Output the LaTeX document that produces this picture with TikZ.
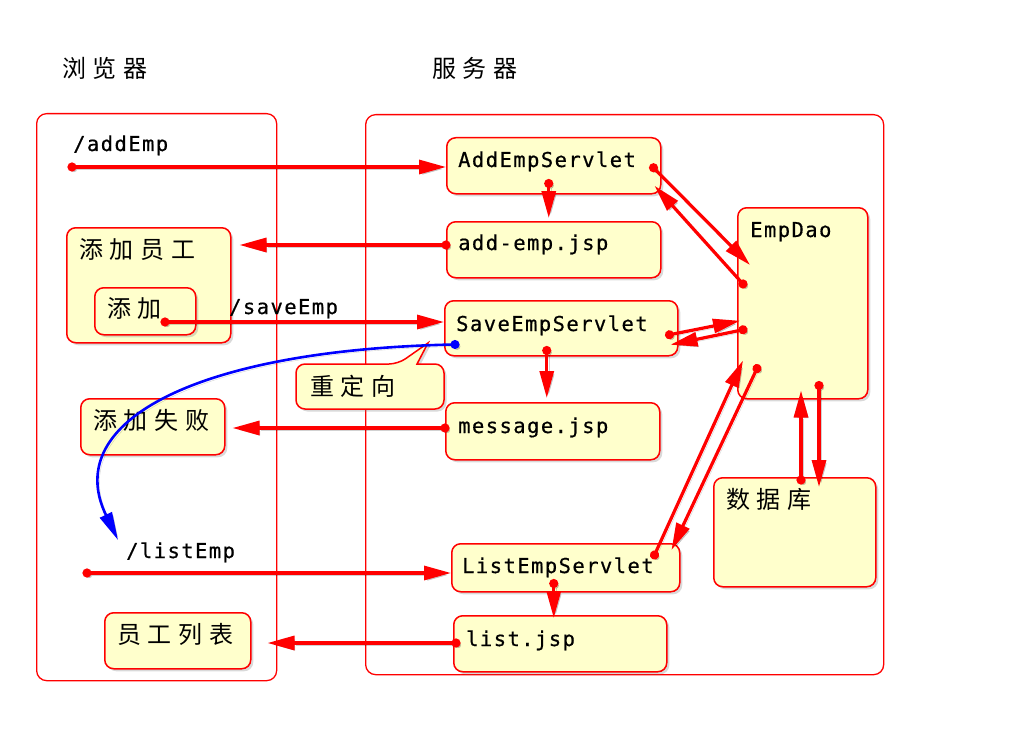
\documentclass[tikz,border=0pt]{standalone}
\usepackage{fontspec}
\newfontfamily\cjk{Noto Sans CJK SC}[LetterSpace=28]
\newfontfamily\mono{DejaVu Sans Mono}[LetterSpace=7,FakeBold=0.6]
\usetikzlibrary{arrows.meta,shadows,calc}
\definecolor{boxfill}{RGB}{255,255,204}
\definecolor{boxred}{RGB}{255,0,0}
\tikzset{
  cont/.style={draw=boxred, line width=1.3pt, rounded corners=10pt, anchor=north west, inner sep=0pt},
  box/.style={draw=boxred, fill=boxfill, line width=1.5pt, rounded corners=9pt, anchor=north west, inner sep=0pt,
    drop shadow={shadow xshift=2.5pt, shadow yshift=-2.5pt, opacity=0.3}},
  mtext/.style={font=\mono\fontsize{20.5}{24}\selectfont, anchor=base west, inner sep=0pt},
  ctext/.style={font=\cjk\fontsize{24}{28}\selectfont, anchor=west, inner sep=0pt},
  arr/.style={draw=red, line width=3.2pt, shorten <=-4.5pt,
    {Circle[length=9pt]}-{Triangle[length=27pt,width=14pt]},
    preaction={draw=black, opacity=0.18, transform canvas={shift={(2pt,-2pt)}}}},
  barr/.style={draw=blue, line width=2.6pt, shorten <=-4.5pt,
    {Circle[length=9pt]}-{Triangle[length=28pt,width=13pt]},
    preaction={draw=black, opacity=0.18, transform canvas={shift={(2pt,-2pt)}}}},
}
\begin{document}
\begin{tikzpicture}[x=1pt,y=-1pt]
\useasboundingbox (0,0) rectangle (1024,738);
% titles
\node[ctext] (tb) at (62,68) {浏览器};
\node[ctext] (ts) at (432,68) {服务器};
% containers
\node[cont, minimum width=240pt, minimum height=567pt] (browser) at (36,113) {};
\node[cont, minimum width=518pt, minimum height=560pt] (server) at (365,114) {};
% server boxes
\node[box, minimum width=214pt, minimum height=56pt] (aes) at (446,137) {};
\node[box, minimum width=214pt, minimum height=56pt] (aej) at (446,221) {};
\node[box, minimum width=233pt, minimum height=55pt] (ses) at (444,300) {};
\node[box, minimum width=214pt, minimum height=57pt] (msg) at (445,402) {};
\node[box, minimum width=228pt, minimum height=48pt] (les) at (451,543) {};
\node[box, minimum width=213pt, minimum height=56pt] (lj) at (453,615) {};
\node[box, minimum width=130pt, minimum height=191pt] (dao) at (737,207) {};
\node[box, minimum width=162pt, minimum height=109pt] (db) at (713,477) {};
% browser boxes
\node[box, minimum width=164pt, minimum height=115pt] (add) at (66,227) {};
\node[box, minimum width=101pt, minimum height=47pt] (btn) at (94,287) {};
\node[box, minimum width=144pt, minimum height=56pt] (fail) at (80,398) {};
\node[box, minimum width=146pt, minimum height=56pt] (list) at (104,612) {};
% callout
\draw[draw=boxred, fill=boxfill, line width=1.5pt, drop shadow={shadow xshift=2.5pt, shadow yshift=-2.5pt, opacity=0.3}]
  (296,386) [rounded corners=9pt] |- (398,364) [sharp corners] -- (428,343) -- (417,364) -- (425,364)
  [rounded corners=9pt] -| (444,409) -| (296,386) -- cycle;
% texts
\node[mtext] (taes) at (458,167) {AddEmpServlet};
\node[mtext] (taej) at (458,250) {add-emp.jsp};
\node[mtext] (tses) at (456,331) {SaveEmpServlet};
\node[mtext] (tmsg) at (458,433) {message.jsp};
\node[mtext] (tles) at (462,573) {ListEmpServlet};
\node[mtext] (tlj) at (466,646) {list.jsp};
\node[mtext] (tdao) at (750,237) {EmpDao};
\node[mtext] (uadd) at (73,151) {/addEmp};
\node[mtext] (usave) at (229,314) {/saveEmp};
\node[mtext] (ulist) at (126,558) {/listEmp};
\node[ctext] (tadd) at (79,250) {添加员工};
\node[ctext] (tbtn) at (107,308) {添加};
\node[ctext] (tfail) at (93,420) {添加失败};
\node[ctext] (tlist) at (117,634) {员工列表};
\node[ctext] (tredir) at (310,386) {重定向};
\node[ctext] (tdb) at (726,499) {数据库};
% coordinates
\coordinate (addS) at (72,167);
\coordinate (saveS) at (165,322);
\coordinate (listS) at (87,573);
\coordinate (rdEnd) at (118,540);
% horizontal arrows
\draw[arr] (addS) -- (addS -| aes.west);
\draw[arr, shorten >=8pt] (aej.west |- 0,245) -- (add.east |- 0,245);
\draw[arr] (saveS) -- (saveS -| ses.west);
\draw[arr, shorten >=7pt] (msg.west |- 0,428) -- (fail.east |- 0,428);
\draw[arr] (listS) -- (listS -| les.west);
\draw[arr, shorten >=16pt] ($(lj.west |- 0,643)+(3,0)$) -- (list.east |- 0,643);
% vertical arrows
\draw[arr, shorten >=3pt] ($(aes.south)+(-5,-11)$) -- ($(aej.north)+(-5,0)$);
\draw[arr, shorten >=4pt] ($(ses.south)+(-14.5,-6)$) -- ($(msg.north)+(-6,0)$);
\draw[arr] ($(les.south)+(-12,-9)$) -- ($(lj.north)+(-6.5,3)$);
% dao arrows
\draw[arr] ($(aes.east)+(-8,2)$) -- ($(dao.north west)+(13,58)$);
\draw[arr] ($(dao.north west)+(6,77)$) -- ($(aes.east)+(-7,20)$);
\draw[arr] ($(ses.east)+(-9,6.5)$) -- ($(dao.west)+(3,17.5)$);
\draw[arr] ($(dao.west)+(6,26.5)$) -- ($(ses.east)+(-8,16.5)$);
\draw[arr] ($(les.north east)+(-26,12)$) -- ($(dao.south west)+(6,-39)$);
\draw[arr] ($(dao.south west)+(20,-31)$) -- ($(les.north east)+(-9,7)$);
\draw[arr] ($(dao.south west)+(82,-14)$) -- ($(db.north west)+(106,10)$);
\draw[arr] ($(db.north west)+(88,3)$) -- ($(dao.south west)+(64,-9)$);
% redirect
\draw[barr] ($(ses.south west)+(11,-12)$) .. controls (200,350) and (60,420) .. (rdEnd);
\end{tikzpicture}
\end{document}
